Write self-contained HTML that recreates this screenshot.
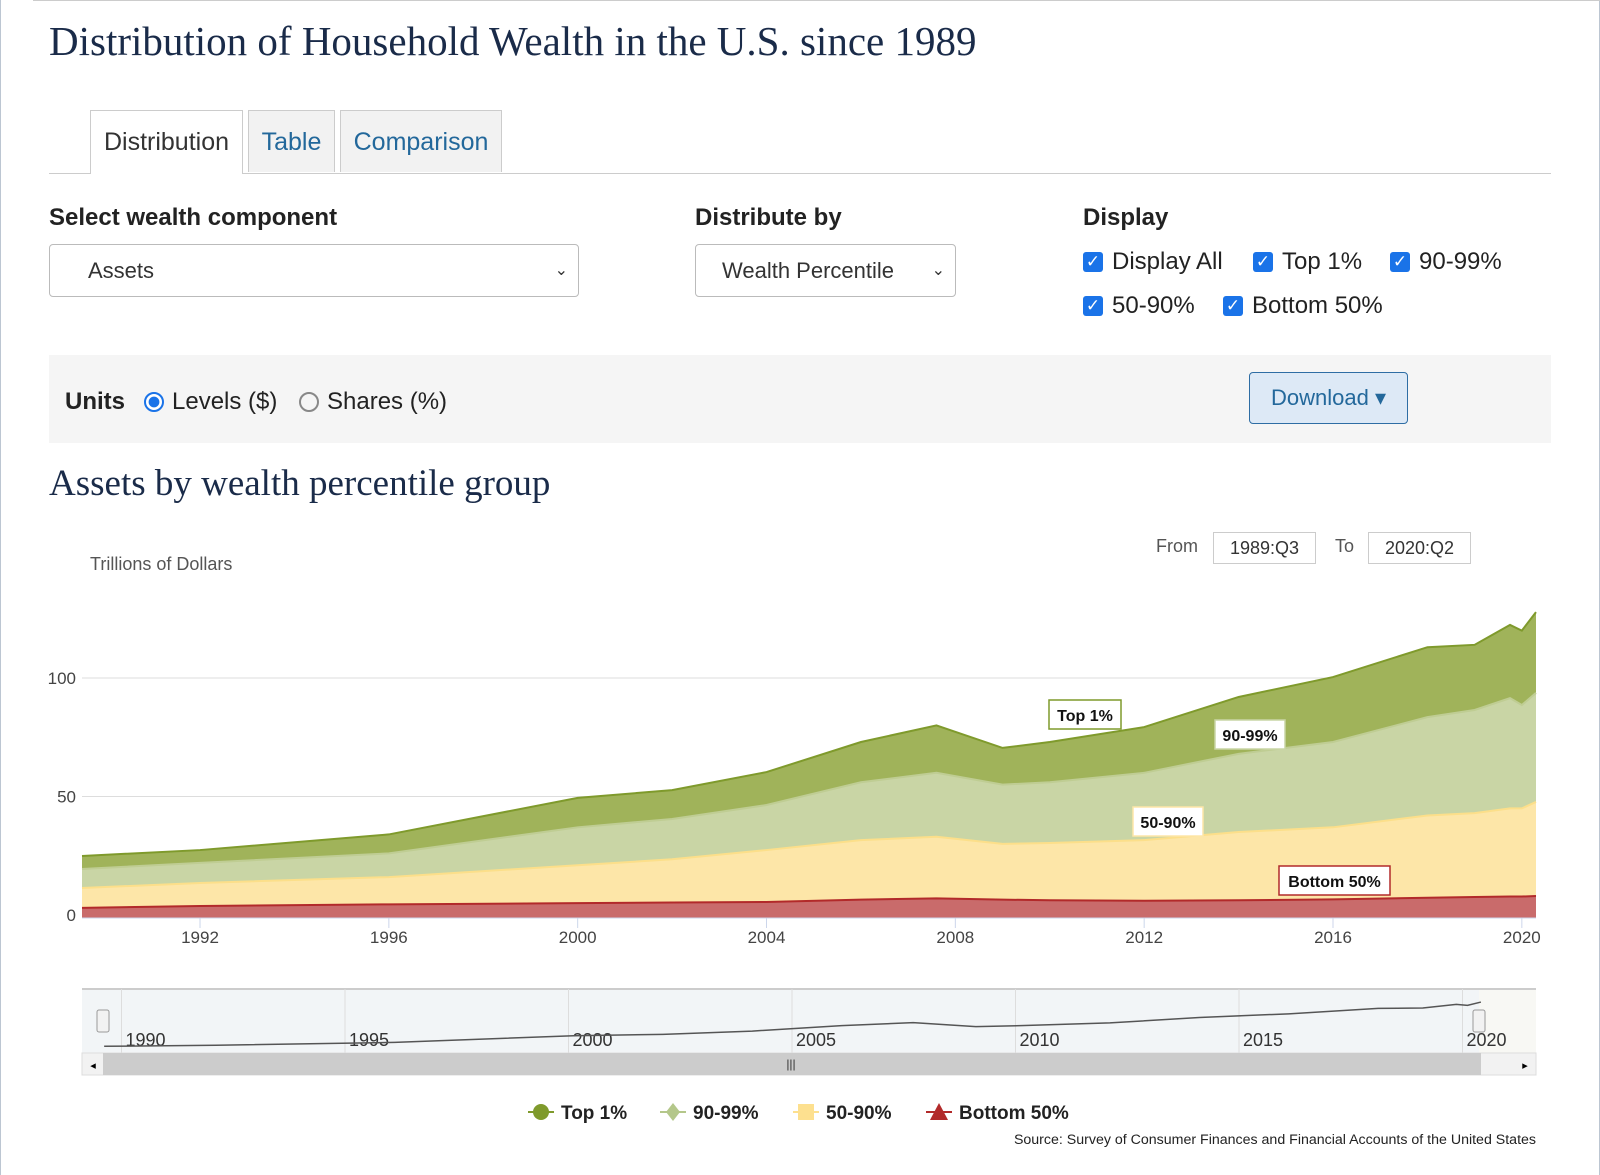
<!DOCTYPE html>
<html><head><meta charset="utf-8"><style>
body{margin:0;width:1600px;height:1175px;background:#fff;font-family:"Liberation Sans",sans-serif;position:relative;overflow:hidden}
.a{position:absolute}
.border{position:absolute;left:0;top:0;width:1598px;height:1175px;border-left:1px solid #bcc6d2;border-right:1px solid #bcc6d2}
h1{position:absolute;left:49px;top:17px;margin:0;font-family:"Liberation Serif",serif;font-weight:normal;font-size:41px;color:#1a2b49}
.tab{position:absolute;top:110px;height:62px;border:1px solid #ccc;border-bottom:none;background:#f2f2f2;font-size:25px;color:#23689b;line-height:62px;text-align:center;box-sizing:border-box}
.lbl{position:absolute;font-weight:bold;font-size:24px;color:#222}
.sel{position:absolute;border:1px solid #bbb;border-radius:4px;height:53px;box-sizing:border-box;font-size:22px;color:#333;line-height:51px}
.cb{position:absolute;font-size:24px;color:#222;display:flex;align-items:center}
.cb i{display:inline-block;width:20px;height:20px;background:#1a73e8;border-radius:3px;margin-right:9px;color:#fff;font-style:normal;font-size:17px;line-height:20px;text-align:center}
.box{position:absolute;border:1px solid #ccc;height:32px;box-sizing:border-box;font-size:18px;line-height:30px;text-align:center;color:#333}
</style></head><body>
<div class="border"></div>
<div class="a" style="left:33px;top:0;width:1567px;height:1px;background:#ccc"></div>
<h1>Distribution of Household Wealth in the U.S. since 1989</h1>
<div class="a" style="left:49px;top:173px;width:1502px;height:1px;background:#ccc"></div>
<div class="tab" style="left:90px;width:153px;background:#fff;color:#333;height:64px">Distribution</div>
<div class="tab" style="left:248px;width:87px">Table</div>
<div class="tab" style="left:340px;width:162px">Comparison</div>
<div class="lbl" style="left:49px;top:204px">Select wealth component</div>
<div class="sel" style="left:49px;top:244px;width:530px;padding-left:38px">Assets<span style="position:absolute;right:10px;font-size:16px">&#8964;</span></div>
<div class="lbl" style="left:695px;top:204px">Distribute by</div>
<div class="sel" style="left:695px;top:244px;width:261px;padding-left:26px">Wealth Percentile<span style="position:absolute;right:10px;font-size:16px">&#8964;</span></div>
<div class="lbl" style="left:1083px;top:204px">Display</div>
<div class="cb" style="left:1083px;top:248px"><i>✓</i>Display All</div>
<div class="cb" style="left:1253px;top:248px"><i>✓</i>Top 1%</div>
<div class="cb" style="left:1390px;top:248px"><i>✓</i>90-99%</div>
<div class="cb" style="left:1083px;top:292px"><i>✓</i>50-90%</div>
<div class="cb" style="left:1223px;top:292px"><i>✓</i>Bottom 50%</div>
<div class="a" style="left:49px;top:355px;width:1502px;height:88px;background:#f5f5f5"></div>
<div class="lbl" style="left:65px;top:388px">Units</div>
<div class="cb" style="left:144px;top:388px"><span style="display:inline-block;width:16px;height:16px;border:2px solid #1a73e8;border-radius:50%;margin-right:8px;box-sizing:content-box;background:radial-gradient(#1a73e8 45%,#fff 50%)"></span>Levels ($)</div>
<div class="cb" style="left:299px;top:388px"><span style="display:inline-block;width:16px;height:16px;border:2px solid #888;border-radius:50%;margin-right:8px"></span>Shares (%)</div>
<div class="a" style="left:1249px;top:372px;width:159px;height:52px;box-sizing:border-box;border:1px solid #2e6da4;border-radius:4px;background:#dde9f6;color:#23689b;font-size:22px;line-height:50px;text-align:center">Download ▾</div>
<div class="a" style="left:49px;top:462px;font-family:'Liberation Serif',serif;font-size:37px;color:#1a2b49">Assets by wealth percentile group</div>
<div class="a" style="left:1156px;top:536px;font-size:18px;color:#555">From</div>
<div class="box" style="left:1213px;top:532px;width:103px">1989:Q3</div>
<div class="a" style="left:1335px;top:536px;font-size:18px;color:#555">To</div>
<div class="box" style="left:1368px;top:532px;width:103px">2020:Q2</div>
<div class="a" style="left:90px;top:554px;font-size:18px;color:#555">Trillions of Dollars</div>
<svg id="chart" class="a" style="left:0;top:0" width="1600" height="1175"></svg>
<div class="a" style="right:64px;top:1132px;font-size:14.2px;color:#222">Source: Survey of Consumer Finances and Financial Accounts of the United States</div>
<script>
const years=[1989.5,1992,1996,2000,2002,2004,2006,2007.6,2009,2010,2012,2014,2016,2018,2019,2019.75,2020,2020.3];
const bottom50=[3,3.8,4.5,5,5.3,5.5,6.5,7,6.5,6.2,6,6.2,6.6,7.3,7.6,7.8,7.8,8];
const p50to90=[8.4,9.7,11.5,16,18.2,21.9,25.1,26,23.5,24.2,25.6,28.8,30.4,34.7,35.4,37.2,37.2,39.7];
const p90to99=[8,8.5,10,16,17,19,24.4,27,25,25.6,28.4,33,36,41.5,43.5,46.5,43.6,46];
const top1=[5.5,5.4,8,12.4,12.2,13.9,17,20,15.5,17,19.3,24,27.4,29.5,27.5,30.9,31.4,34.1];
const yTicks=[0,50,100];
const xTicks=[1992,1996,2000,2004,2008,2012,2016,2020];
const navTicks=[1990,1995,2000,2005,2010,2015,2020];
const NS='http://www.w3.org/2000/svg';
const svg=document.getElementById('chart');
const X0=82,X1=1536,Y0=915;
const x=v=>X0+(v-1989.5)/(2020.3-1989.5)*(X1-X0);
const y=v=>Y0-v*2.37;
const nx=v=>350+(v-1995)*44.7;
function mk(t,a){const e=document.createElementNS(NS,t);for(const k in a)e.setAttribute(k,a[k]);svg.appendChild(e);return e;}
yTicks.forEach(t=>{
 const g=mk('line',{x1:X0,x2:X1,y1:y(t),y2:y(t),stroke:t?'#ddd':'#ccd6eb'});
 
 
 const l=mk('text',{x:76,y:y(t)+6,'text-anchor':'end','font-size':17,fill:'#444'});l.textContent=t;
 
 
});
const series=[bottom50,p50to90,p90to99,top1];
const names=['area-bottom-50','area-50-90','area-90-99','area-top-1'];
const fills=['#c96b6b','#fde6a8','#c9d5a5','#a0b35a'];
const strokes=['#b22a2a','#fcdf8a','#bfcd93','#7f9a2c'];
const cum=years.map(()=>0);const layers=[];
series.forEach(s=>{const lo=cum.slice();s.forEach((v,i)=>cum[i]+=v);layers.push([lo,cum.slice()]);});
for(let k=3;k>=0;k--){
 const[lo,hi]=layers[k];
 let d='M'+years.map((yr,i)=>x(yr)+','+y(hi[i])).join('L');
 d+='L'+years.map((yr,i)=>x(yr)+','+(k==0?Y0+3:y(lo[i]))).reverse().join('L')+'Z';
 const p=mk('path',{d:d,fill:fills[k]});
 
 
 const ln=mk('path',{d:'M'+years.map((yr,i)=>x(yr)+','+y(hi[i])).join('L'),fill:'none',stroke:strokes[k],'stroke-width':2});
 
 
}
mk('line',{x1:X0,x2:X1,y1:Y0+3,y2:Y0+3,stroke:'#ccd6eb'});
xTicks.forEach(t=>{
 mk('line',{x1:x(t),x2:x(t),y1:Y0+3,y2:Y0+13,stroke:'#ccd6eb'});
 const l=mk('text',{x:x(t),y:943,'text-anchor':'middle','font-size':17,fill:'#444'});l.textContent=t;
 
 
});
const labels=[['Top 1%',1049,700,72,'#7f9a2c'],['90-99%',1215,720,70,'#c9d5a5'],['50-90%',1133,807,70,'#fde6a8'],['Bottom 50%',1279,866,111,'#b22a2a']];
labels.forEach(L=>{
 const r=mk('rect',{x:L[1],y:L[2],width:L[3],height:29,fill:'#fff',stroke:L[4],'stroke-width':1.5});
 
 
 const t=mk('text',{x:L[1]+L[3]/2,y:L[2]+21,'text-anchor':'middle','font-size':16,'font-weight':'bold',fill:'#111'});t.textContent=L[0];
 
 
});
// navigator
const nb=mk('rect',{x:X0,y:989,width:X1-X0,height:64,fill:'#f2f5f7'});


mk('rect',{x:1479,y:989,width:X1-1479,height:64,fill:'#f8f8f4'});
mk('line',{x1:X0,x2:X1,y1:989,y2:989,stroke:'#ccc','stroke-width':2});
navTicks.forEach(t=>{
 mk('line',{x1:nx(t)-5,x2:nx(t)-5,y1:989,y2:1053,stroke:'#ddd'});
 const l=mk('text',{x:nx(t)-1,y:1046,'font-size':18,fill:'#333'});l.textContent=t;
 
 
});
const tot=years.map((yr,i)=>bottom50[i]+p50to90[i]+p90to99[i]+top1[i]);
const ny=v=>1057-v*0.43;
const nav=mk('path',{d:'M'+years.map((yr,i)=>nx(yr)+','+ny(tot[i])).join('L'),fill:'none',stroke:'#555','stroke-width':1.5});


[103,1479].forEach(h=>{const r=mk('rect',{x:h-6,y:1010,width:12,height:22,fill:'#f2f2f2',stroke:'#999',rx:2});
 
 });
const sb=mk('rect',{x:X0,y:1053,width:X1-X0,height:22,fill:'#f2f2f2',stroke:'#ddd'});


mk('rect',{x:X0+21,y:1053,width:1378,height:22,fill:'#ccc'});
mk('text',{x:93,y:1069,'font-size':11,'text-anchor':'middle'}).textContent='◂';
mk('text',{x:1525,y:1069,'font-size':11,'text-anchor':'middle'}).textContent='▸';
mk('text',{x:791,y:1068,'font-size':12,'text-anchor':'middle',fill:'#333'}).textContent='|||';
// legend
const leg=[['Top 1%',541,'#7f9a2c','c'],['90-99%',673,'#b4c78a','d'],['50-90%',806,'#fde08f','s'],['Bottom 50%',939,'#b22a2a','t']];
leg.forEach(L=>{
 const g=mk('g',{});
 
 
 const cx=L[1],cy=1112;
 const ln=document.createElementNS(NS,'line');ln.setAttribute('x1',cx-13);ln.setAttribute('x2',cx+13);ln.setAttribute('y1',cy);ln.setAttribute('y2',cy);ln.setAttribute('stroke',L[2]);ln.setAttribute('stroke-width',2);g.appendChild(ln);
 let m;
 if(L[3]=='c'){m=document.createElementNS(NS,'circle');m.setAttribute('cx',cx);m.setAttribute('cy',cy);m.setAttribute('r',8);}
 else{m=document.createElementNS(NS,'path');const d={d:`M${cx},${cy-9}L${cx+7},${cy}L${cx},${cy+9}L${cx-7},${cy}Z`,s:`M${cx-8},${cy-8}h16v16h-16Z`,t:`M${cx},${cy-9}L${cx+9},${cy+8}L${cx-9},${cy+8}Z`}[L[3]];m.setAttribute('d',d);}
 m.setAttribute('fill',L[2]);g.appendChild(m);
 const t=document.createElementNS(NS,'text');t.setAttribute('x',cx+20);t.setAttribute('y',cy+7);t.setAttribute('font-size',19);t.setAttribute('font-weight','bold');t.setAttribute('fill','#222');t.textContent=L[0];g.appendChild(t);
});
</script>
</body></html>
